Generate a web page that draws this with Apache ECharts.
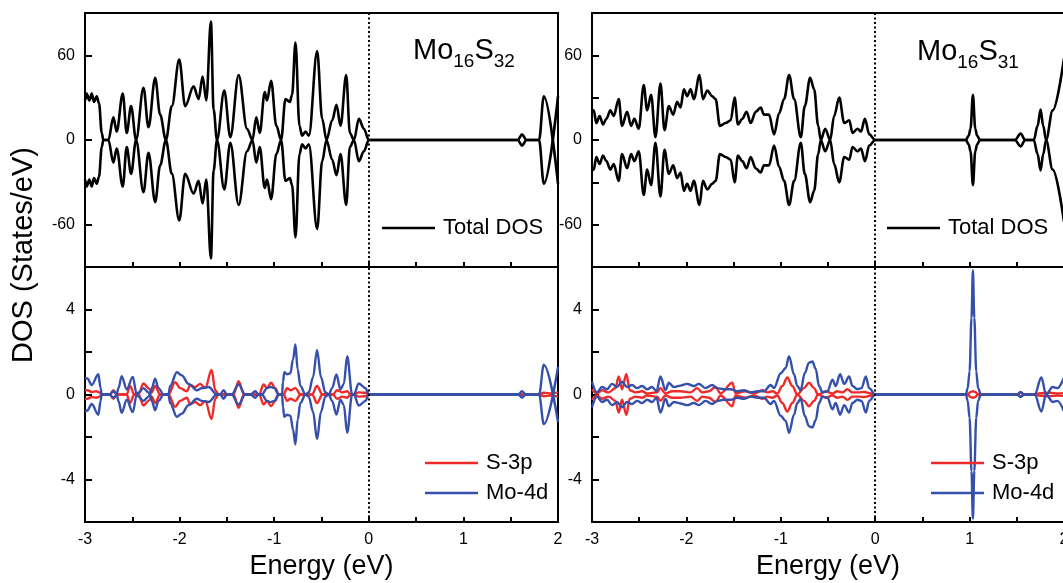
<!DOCTYPE html>
<html>
<head>
<meta charset="utf-8">
<script src="https://cdn.jsdelivr.net/npm/echarts@6/dist/echarts.min.js"></script>
<style>
  html, body { margin: 0; padding: 0; background: #fff; }
  #chart { width: 1063px; height: 583px; }
</style>
</head>
<body>
<div id="chart"></div>
<script>
// ---- Mo16S32: total DOS (spin-up; spin-down is drawn as its mirror) ----
const totE32 = [-3.00, -2.982, -2.954, -2.929, -2.905, -2.876, -2.852, -2.823, -2.806, -2.753,
  -2.700, -2.665, -2.601, -2.559, -2.513, -2.460, -2.382, -2.329, -2.258, -2.206,
  -2.145, -2.082, -2.004, -1.941, -1.852, -1.799, -1.757, -1.718, -1.669, -1.641,
  -1.605, -1.528, -1.464, -1.376, -1.287, -1.230, -1.189, -1.153, -1.100, -1.076,
  -1.033, -0.977, -0.927, -0.881, -0.835, -0.811, -0.775, -0.733, -0.705, -0.669,
  -0.634, -0.546, -0.493, -0.447, -0.387, -0.341, -0.299, -0.239, -0.200, -0.157,
  -0.105, -0.052, 0.0, 1.575, 1.62, 1.665, 1.80, 1.85, 2.0];
const totV32 = [28, 33, 28, 33, 27, 31, 26, 5, 0, 0,
  16, 6, 33, 5, 24, 0, 37, 9, 44, 18,
  0, 24, 57, 24, 38, 29, 45, 28, 84, 22,
  0, 35, 2, 46, 8, 0, 16, 5, 34, 28,
  42, 10, 0, 29, 27, 32, 69, 10, 3, 6,
  3, 63, 15, 0, 14, 25, 10, 46, 5, 0,
  15, 8, 0, 0, 4, 0, 0, 31, -31];

// ---- Mo16S31: total DOS ----
const totE31 = [-3.000, -2.982, -2.954, -2.919, -2.883, -2.848, -2.805, -2.770, -2.717, -2.682,
  -2.628, -2.586, -2.551, -2.505, -2.452, -2.416, -2.374, -2.328, -2.275, -2.232,
  -2.186, -2.140, -2.098, -2.062, -2.027, -1.992, -1.956, -1.921, -1.861, -1.825,
  -1.779, -1.726, -1.691, -1.645, -1.585, -1.531, -1.489, -1.454, -1.408, -1.362,
  -1.319, -1.266, -1.213, -1.178, -1.125, -1.071, -1.018, -0.965, -0.912, -0.859,
  -0.788, -0.746, -0.689, -0.647, -0.604, -0.576, -0.530, -0.477, -0.435, -0.381,
  -0.328, -0.275, -0.240, -0.187, -0.151, -0.109, -0.063, 0.0, 0.96, 0.99,
  1.01, 1.035, 1.06, 1.08, 1.11, 1.48, 1.54, 1.59, 1.68, 1.72,
  1.752, 1.78, 1.81, 1.88, 2.0];
const totV31 = [21, 21, 12, 17, 11, 15, 21, 17, 29, 10,
  20, 10, 15, 8, 39, 21, 32, 2, 40, 7,
  24, 18, 27, 23, 36, 31, 36, 29, 46, 29,
  35, 31, 29, 10, 12, 14, 30, 11, 15, 20,
  12, 20, 23, 18, 18, 4, 19, 29, 46, 29,
  2, 24, 44, 36, 10, 0, 8, 0, 17, 30,
  12, 14, 5, 8, 6, 15, 4, 0, 0, 3,
  8, 32, 8, 3, 0, 0, 4.5, 0, 0, 10,
  21.5, 10, 0, -21, -58];

// ---- Mo16S32: projected DOS ----
const moE32 = [-3.00, -2.975, -2.929, -2.859, -2.835, -2.824, -2.735, -2.718, -2.700, -2.682,
  -2.665, -2.647, -2.612, -2.559, -2.495, -2.453, -2.435, -2.382, -2.329, -2.312,
  -2.294, -2.259, -2.223, -2.170, -2.118, -2.100, -2.029, -1.976, -1.906, -1.818,
  -1.765, -1.694, -1.606, -1.570, -1.535, -1.500, -1.450, -1.376, -1.306, -1.250,
  -1.200, -1.165, -1.130, -1.076, -1.041, -1.000, -0.953, -0.917, -0.907, -0.893,
  -0.864, -0.829, -0.801, -0.776, -0.752, -0.723, -0.670, -0.635, -0.590, -0.547,
  -0.505, -0.459, -0.423, -0.388, -0.342, -0.300, -0.264, -0.229, -0.176, -0.158,
  -0.106, -0.035, 0.0, 1.58, 1.62, 1.66, 1.80, 1.85, 2.0];
const moV32 = [0.8, 0.75, 0.45, 0.95, 0.3, 0, 0, 0.1, 0.15, 0.1,
  0, 0.3, 0.86, 0.24, 0.83, 0, 0.1, 0.3, 0.1, 0,
  0.3, 0.74, 0.3, 0, 0, 0.4, 1.05, 0.9, 0.5, 0.2,
  0.3, 0.35, 0, 0, 0.2, 0, 0, 0.47, 0, 0,
  0.15, 0, 0, 0.3, 0.36, 0.3, 0, 0, 0.6, 1.05,
  0.95, 1.0, 1.65, 2.35, 1.18, 0.4, 0, 0.1, 0.8, 2.1,
  0.8, 0.1, 0, 0.3, 0.94, 0.24, 0.5, 1.8, 0, 0,
  0.52, 0.3, 0, 0, 0.15, 0, 0, 1.4, -1.3];
const sE32 = [-3.00, -2.975, -2.929, -2.880, -2.848, -2.824, -2.735, -2.700, -2.665, -2.560,
  -2.523, -2.480, -2.435, -2.382, -2.329, -2.294, -2.259, -2.206, -2.118, -2.047,
  -1.994, -1.923, -1.888, -1.835, -1.782, -1.729, -1.662, -1.623, -1.588, -1.430,
  -1.376, -1.320, -1.160, -1.112, -1.076, -1.034, -0.988, -0.953, -0.900, -0.864,
  -0.829, -0.776, -0.720, -0.600, -0.547, -0.490, -0.380, -0.335, -0.280, -0.229,
  -0.190, -0.160, -0.106, -0.035, 0.0, 1.80, 1.85, 1.92, 2.0];
const sV32 = [0.2, 0.2, 0.12, 0.15, 0.1, 0, 0, 0.2, 0, 0,
  0.4, 0, 0, 0.52, 0.3, 0.1, 0.4, 0, 0, 0.58,
  0.3, 0.15, 0.45, 0.35, 0.5, 0.3, 1.15, 0.2, 0, 0,
  0.63, 0, 0, 0.47, 0.3, 0.55, 0.3, 0, 0, 0.3,
  0.2, 0.3, 0, 0, 0.4, 0, 0, 0.2, 0.1, 0.15,
  0, 0, 0.1, 0.08, 0, 0, 0.08, 0.05, 0.1];

// ---- Mo16S31: projected DOS ----
const moE31 = [-3.000, -2.947, -2.894, -2.841, -2.788, -2.735, -2.682, -2.629, -2.576, -2.522,
  -2.469, -2.416, -2.363, -2.317, -2.275, -2.222, -2.186, -2.133, -2.063, -1.992,
  -1.921, -1.868, -1.797, -1.727, -1.674, -1.603, -1.532, -1.461, -1.391, -1.320,
  -1.249, -1.178, -1.108, -1.072, -1.001, -0.948, -0.913, -0.860, -0.825, -0.789,
  -0.747, -0.701, -0.665, -0.630, -0.595, -0.559, -0.506, -0.453, -0.418, -0.372,
  -0.329, -0.276, -0.241, -0.188, -0.145, -0.099, -0.064, 0.0, 0.96, 0.98,
  1.00, 1.02, 1.035, 1.05, 1.07, 1.09, 1.12, 1.50, 1.54, 1.58,
  1.69, 1.76, 1.81, 1.88, 1.93, 2.0];
const moV31 = [0.6, 0.1, 0.35, 0.25, 0.5, 0.35, 0.6, 0.35, 0.45, 0.3,
  0.4, 0.25, 0.35, 0.15, 0.85, 0.2, 0.55, 0.35, 0.42, 0.5,
  0.4, 0.5, 0.3, 0.45, 0.3, 0.25, 0.25, 0.15, 0.2, 0.1,
  0.15, 0.15, 0.45, 0.3, 1.0, 1.25, 1.8, 0.95, 0.4, 0.2,
  1.0, 1.5, 1.55, 1.2, 0.4, 0.1, 0.15, 0.7, 0.4, 0.95,
  0.5, 0.85, 0.4, 0.25, 0.3, 0.85, 0.3, 0, 0, 0.3,
  1.1, 3.6, 5.85, 3.6, 1.1, 0.3, 0, 0, 0.12, 0,
  0, 0.8, 0, -0.35, -0.3, -0.8];
const sE31 = [-3.000, -2.947, -2.894, -2.823, -2.752, -2.717, -2.682, -2.636, -2.600, -2.540,
  -2.469, -2.416, -2.310, -2.275, -2.222, -2.151, -2.063, -1.956, -1.886, -1.833,
  -1.762, -1.691, -1.638, -1.514, -1.479, -1.373, -1.284, -1.196, -1.143, -1.090,
  -1.037, -0.984, -0.931, -0.878, -0.825, -0.754, -0.701, -0.648, -0.605, -0.524,
  -0.453, -0.400, -0.347, -0.294, -0.241, -0.170, -0.117, -0.046, 0.0, 0.98,
  1.01, 1.035, 1.06, 1.09, 1.51, 1.54, 1.57, 1.68, 1.75, 1.85,
  1.93, 2.0];
const sV31 = [0.25, 0.05, 0.2, 0.1, 0.3, 0.85, 0.25, 0.95, 0.2, 0.1,
  0.15, 0.05, 0.1, 0.3, 0.05, 0.15, 0.15, 0.1, 0.3, 0.1,
  0.15, 0.35, 0.05, 0.55, 0.05, 0.15, 0.05, 0.2, 0.1, 0.15,
  0.05, 0.4, 0.8, 0.4, 0, 0.3, 0.55, 0.3, 0, 0.15,
  0.05, 0.15, 0.1, 0.25, 0.1, 0.1, 0.12, 0.05, 0, 0,
  0.12, 0.15, 0.12, 0, 0, 0.1, 0, 0, 0.06, 0.08,
  0.05, 0.07];

// ---- axis tick labels and panel captions ----
const energyTicks = [-3, -2, -1, 0, 1, 2];
const totalTicks = [-60, 0, 60];
const pdosTicks = [-4, 0, 4];
const captions = [['Mo', '16', 'S', '32'], ['Mo', '16', 'S', '31']];

const FONT = '"Liberation Sans", Arial, Helvetica, sans-serif';
const BLACK = '#000000';
const RED = '#ee2a2a';
const BLUE = '#3550aa';

const chart = echarts.init(document.getElementById('chart'), null, { renderer: 'canvas' });

function pts(E, V, sign) {
  return E.map((e, i) => [e, sign * V[i]]);
}

const gridBox = [
  { left: 85, top: 13, width: 473, height: 254 },
  { left: 85, top: 267, width: 473, height: 255 },
  { left: 592, top: 13, width: 472, height: 254 },
  { left: 592, top: 267, width: 472, height: 255 }
];

function xAxisFor(gridIndex, withLabels) {
  return {
    type: 'value', gridIndex, min: -3, max: 2, interval: 0.5,
    axisLine: { show: true, onZero: false, lineStyle: { color: BLACK, width: 2 } },
    axisTick: { show: true, inside: true, length: 5, lineStyle: { color: BLACK, width: 2 } },
    splitLine: { show: false },
    axisLabel: {
      show: withLabels, margin: 10, color: BLACK, fontSize: 16, fontFamily: FONT,
      formatter: v => energyTicks.includes(v) ? String(v) : ''
    },
    name: withLabels ? 'Energy (eV)' : '',
    nameLocation: 'middle', nameGap: 31,
    nameTextStyle: { color: BLACK, fontSize: 27, fontFamily: FONT }
  };
}

function yAxisFor(gridIndex, lim, step, ticks) {
  return {
    type: 'value', gridIndex, min: -lim, max: lim, interval: step,
    axisLine: { show: true, onZero: false, lineStyle: { color: BLACK, width: 2 } },
    axisTick: { show: true, inside: true, length: 7, lineStyle: { color: BLACK, width: 2 } },
    splitLine: { show: false },
    axisLabel: {
      margin: 10, color: BLACK, fontSize: 16, fontFamily: FONT,
      formatter: v => ticks.includes(v) ? String(v) : ''
    }
  };
}

const fermiLine = {
  silent: true, symbol: ['none', 'none'], label: { show: false },
  lineStyle: { color: BLACK, width: 2, type: [2, 2.5] },
  emphasis: { disabled: true },
  data: [{ xAxis: 0 }]
};

function curve(name, idx, E, V, sign, color, width, withFermi) {
  const s = {
    name, type: 'line', xAxisIndex: idx, yAxisIndex: idx,
    data: pts(E, V, sign), showSymbol: false, symbol: 'none',
    smooth: 0.35, smoothMonotone: 'x',
    lineStyle: { color, width }, itemStyle: { color },
    emphasis: { disabled: true }
  };
  if (withFermi) s.markLine = fermiLine;
  return s;
}

const series = [
  curve('Total DOS', 0, totE32, totV32, 1, BLACK, 2.6, true),
  curve('Total DOS', 0, totE32, totV32, -1, BLACK, 2.6, false),
  curve('S-3p', 1, sE32, sV32, 1, RED, 2.4, true),
  curve('S-3p', 1, sE32, sV32, -1, RED, 2.4, false),
  curve('Mo-4d', 1, moE32, moV32, 1, BLUE, 2.4, false),
  curve('Mo-4d', 1, moE32, moV32, -1, BLUE, 2.4, false),
  curve('Total DOS', 2, totE31, totV31, 1, BLACK, 2.6, true),
  curve('Total DOS', 2, totE31, totV31, -1, BLACK, 2.6, false),
  curve('S-3p', 3, sE31, sV31, 1, RED, 2.4, true),
  curve('S-3p', 3, sE31, sV31, -1, RED, 2.4, false),
  curve('Mo-4d', 3, moE31, moV31, 1, BLUE, 2.4, false),
  curve('Mo-4d', 3, moE31, moV31, -1, BLUE, 2.4, false)
];

function legendAt(left, top, names) {
  return {
    data: names, left, top, orient: 'vertical', padding: 0, itemGap: 8,
    icon: 'rect', itemWidth: 53, itemHeight: 2.5, selectedMode: false,
    textStyle: { color: BLACK, fontSize: 22, fontFamily: FONT, padding: [0, 0, 0, 3] }
  };
}

// Panel caption with subscripted atom counts, laid out piece by piece
function caption(parts, x0, baseline) {
  const big = 29, small = 19;
  const ctx = document.createElement('canvas').getContext('2d');
  const items = [];
  let x = x0;
  parts.forEach((t, i) => {
    const size = i % 2 === 0 ? big : small;
    const base = i % 2 === 0 ? baseline : baseline + 8;
    ctx.font = size + 'px ' + FONT;
    items.push({
      type: 'text', x, y: base - 0.32 * size, silent: true,
      style: { text: t, fill: BLACK, fontSize: size, fontFamily: FONT,
               align: 'left', verticalAlign: 'middle', textAlign: 'left', textVerticalAlign: 'middle' }
    });
    x += ctx.measureText(t).width;
  });
  return items;
}

chart.setOption({
  animation: false,
  backgroundColor: '#ffffff',
  grid: gridBox.map(g => Object.assign({
    show: true, borderColor: BLACK, borderWidth: 2, backgroundColor: 'transparent',
    outerBoundsMode: 'none', containLabel: false
  }, g)),
  xAxis: [xAxisFor(0, false), xAxisFor(1, true), xAxisFor(2, false), xAxisFor(3, true)],
  yAxis: [
    yAxisFor(0, 90, 30, totalTicks),
    yAxisFor(1, 6, 2, pdosTicks),
    yAxisFor(2, 90, 30, totalTicks),
    yAxisFor(3, 6, 2, pdosTicks)
  ],
  legend: [
    legendAt(382, 217, ['Total DOS']),
    legendAt(425, 452, ['S-3p', 'Mo-4d']),
    legendAt(887, 217, ['Total DOS']),
    legendAt(931, 452, ['S-3p', 'Mo-4d'])
  ],
  graphic: [
    {
      type: 'text', x: 24, y: 255, rotation: Math.PI / 2, silent: true,
      style: {
        text: 'DOS (States/eV)', fill: BLACK, fontSize: 29, fontFamily: FONT,
        align: 'center', verticalAlign: 'middle', textAlign: 'center', textVerticalAlign: 'middle'
      }
    },
    ...caption(captions[0], 413, 60),
    ...caption(captions[1], 917, 61)
  ],
  series
});
</script>
</body>
</html>
